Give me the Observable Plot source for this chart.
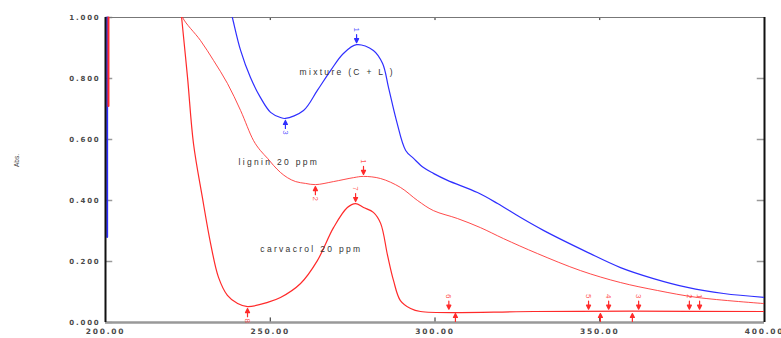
<!DOCTYPE html>
<html><head><meta charset="utf-8">
<script src="https://cdn.jsdelivr.net/npm/d3@7"></script>
<script src="https://cdn.jsdelivr.net/npm/@observablehq/plot@0.6"></script>
<style>
body{margin:0;background:#fff;}
.ticklab text{letter-spacing:1.8px;}
.curvelab text{letter-spacing:2.3px;}
</style>
</head><body><div id="chart"></div>
<script>
// wavelength (nm), absorbance
const mixture = [[237.6,1.039],[238.5,1.0],[241.0,0.892],[244.0,0.803],[247.0,0.738],[250.1,0.689],[253.1,0.672],[254.6,0.669],[260.1,0.695],[264.3,0.761],[268.3,0.826],[272.2,0.882],[276.2,0.911],[281.3,0.892],[284.1,0.849],[285.9,0.770],[288.3,0.662],[291.1,0.564],[293.5,0.538],[296.5,0.508],[299.5,0.489],[303.8,0.466],[312.9,0.426],[319.0,0.390],[326.0,0.344],[332.9,0.302],[346.3,0.230],[356.3,0.180],[366.3,0.144],[376.6,0.115],[387.6,0.095],[400,0.082]];
const lignin = [[222.5,1.039],[223.4,1.0],[228.8,0.925],[232.8,0.859],[237.0,0.784],[241.0,0.695],[244.9,0.597],[247.0,0.564],[249.2,0.538],[251.0,0.515],[253.1,0.492],[255.2,0.475],[257.7,0.462],[260.7,0.456],[263.7,0.452],[269.2,0.462],[275.3,0.475],[278.3,0.479],[283.5,0.472],[289.5,0.443],[294.7,0.400],[299.5,0.367],[306.8,0.341],[313.8,0.311],[320.8,0.275],[331.1,0.226],[344.2,0.170],[356.3,0.131],[367.5,0.105],[379.7,0.082],[400,0.062]];
const carvacrol = [[222.8,1.039],[223.1,1.0],[224.9,0.803],[226.7,0.587],[229.4,0.410],[231.9,0.259],[234.3,0.148],[237.0,0.089],[240.1,0.062],[243.1,0.052],[249.2,0.066],[253.1,0.082],[259.2,0.128],[264.3,0.203],[269.2,0.311],[273.4,0.377],[275.9,0.390],[278.3,0.377],[281.3,0.361],[283.5,0.325],[285.6,0.220],[287.4,0.138],[289.5,0.072],[292.6,0.046],[295.6,0.036],[330,0.036],[360,0.037],[400,0.036]];
const blueSpike = [[200.5,0.28],[200.5,1.0]];
const redSpike = [[200.9,0.71],[200.9,1.0]];

// peak picks: wavelength, absorbance, direction, label, colour group
const picks = [
  {nm:276.2, abs:0.911, dir:"down", label:"1", s:"blue"},
  {nm:254.6, abs:0.669, dir:"up", label:"3", s:"blue"},
  {nm:278.3, abs:0.479, dir:"down", label:"1", s:"red"},
  {nm:263.7, abs:0.452, dir:"up", label:"2", s:"red"},
  {nm:275.9, abs:0.390, dir:"down", label:"7", s:"red"},
  {nm:243.1, abs:0.052, dir:"up", label:"8", s:"red"},
  {nm:304.2, abs:0.037, dir:"down", label:"6", s:"red"},
  {nm:306.2, abs:0.036, dir:"up", label:"", s:"red"},
  {nm:346.6, abs:0.037, dir:"down", label:"5", s:"red"},
  {nm:352.7, abs:0.037, dir:"down", label:"4", s:"red"},
  {nm:350.2, abs:0.036, dir:"up", label:"", s:"red"},
  {nm:361.8, abs:0.037, dir:"down", label:"3", s:"red"},
  {nm:359.9, abs:0.036, dir:"up", label:"", s:"red"},
  {nm:377.2, abs:0.037, dir:"down", label:"2", s:"red"},
  {nm:380.3, abs:0.037, dir:"down", label:"1", s:"red"}
];
const curveLabels = [
  {nm:258.9, abs:0.820, text:"mixture (C + L )"},
  {nm:240.4, abs:0.525, text:"lignin 20 ppm"},
  {nm:247.0, abs:0.239, text:"carvacrol 20 ppm"}
];
const xTicks = [200,250,300,350,400];
const yTicks = [0,0.2,0.4,0.6,0.8,1.0];

const BLUE = "#2f2fff", RED = "#ff2a2a";
const col = d => d.s === "blue" ? BLUE : RED;
const arrowShape = {draw(ctx, l) {
  ctx.moveTo(0,0); ctx.lineTo(0,-l);
  ctx.moveTo(0,-l); ctx.lineTo(-2,-l+4); ctx.lineTo(2,-l+4); ctx.closePath();
}};
const down = picks.filter(d => d.dir === "down");
const up = picks.filter(d => d.dir === "up");

const chart = Plot.plot({
  width: 781, height: 338,
  marginLeft: 105, marginRight: 17, marginTop: 17, marginBottom: 16,
  x: {domain: [200,400]},
  y: {domain: [0,1]},
  style: {fontFamily: "'Liberation Sans', Arial, sans-serif", background: "#fff", overflow: "visible"},
  marks: [
    Plot.axisX(xTicks, {tickSize: 0, tickPadding: 6, tickFormat: d => d.toFixed(2), fontSize: 7.5, fontWeight: "bold", fontFamily: "DejaVu Sans", fill: "#4a4a4a", className: "ticklab"}),
    Plot.axisY(yTicks, {tickSize: 0, tickPadding: 5, tickFormat: d => d.toFixed(3), fontSize: 7, fontWeight: "bold", fontFamily: "DejaVu Sans", fill: "#4a4a4a", className: "ticklab"}),
    Plot.ruleY(yTicks, {x1: 200, x2: 202.2, stroke: "#999", strokeWidth: 1.5}),
    Plot.ruleY(yTicks.slice(1,-1), {x1: 397.8, x2: 400, stroke: "#999", strokeWidth: 1.5}),
    Plot.ruleX(xTicks.slice(1,-1), {y1: 0, y2: 0.015, stroke: "#222"}),
    Plot.ruleX(xTicks.slice(1,-1), {y1: 1, y2: 0.99, stroke: "#222"}),
    Plot.ruleY([0], {stroke: "#999", strokeWidth: 2.5}),
    Plot.ruleY([1], {stroke: "#777", strokeWidth: 1.2}),
    Plot.ruleX([400], {stroke: "#111", strokeWidth: 2}),
    Plot.line(blueSpike, {x: "0", y: "1", stroke: BLUE, strokeWidth: 2}),
    Plot.line(redSpike, {x: "0", y: "1", stroke: RED, strokeWidth: 2}),
    Plot.ruleX([200], {stroke: "#111", strokeWidth: 2}),
    Plot.line(carvacrol, {x: "0", y: "1", stroke: RED, strokeWidth: 1.2, curve: "catmull-rom", clip: true}),
    Plot.line(lignin, {x: "0", y: "1", stroke: RED, strokeWidth: 1, strokeOpacity: 0.85, curve: "catmull-rom", clip: true}),
    Plot.line(mixture, {x: "0", y: "1", stroke: BLUE, strokeWidth: 1.2, curve: "catmull-rom", clip: true}),
    Plot.vector(down, {x: "nm", y: "abs", length: 8, rotate: 180, anchor: "end", shape: arrowShape, stroke: col, fill: col, strokeWidth: 1.2, dy: -2}),
    Plot.vector(up, {x: "nm", y: "abs", length: 8, rotate: 0, anchor: "end", shape: arrowShape, stroke: col, fill: col, strokeWidth: 1.2, dy: 2}),
    Plot.text(down, {x: "nm", y: "abs", text: "label", rotate: 90, dy: -15, fill: col, fillOpacity: 0.8, fontSize: 8}),
    Plot.text(up, {x: "nm", y: "abs", text: "label", rotate: 90, dy: 14, fill: col, fillOpacity: 0.8, fontSize: 8}),
    Plot.text(curveLabels, {x: "nm", y: "abs", text: "text", textAnchor: "start", fontSize: 8.5, fill: "#333", className: "curvelab"}),
    Plot.text(["Abs."], {frameAnchor: "left", dx: -89, dy: -3, rotate: -90, fontSize: 6.5, fill: "#444"}),
    Plot.text(["nm"], {frameAnchor: "bottom", dx: -4, dy: 22, fontSize: 8, fill: "#444", fontWeight: "bold", fontFamily: "DejaVu Sans"})
  ]
});
document.getElementById("chart").appendChild(chart);
</script>
</body></html>
